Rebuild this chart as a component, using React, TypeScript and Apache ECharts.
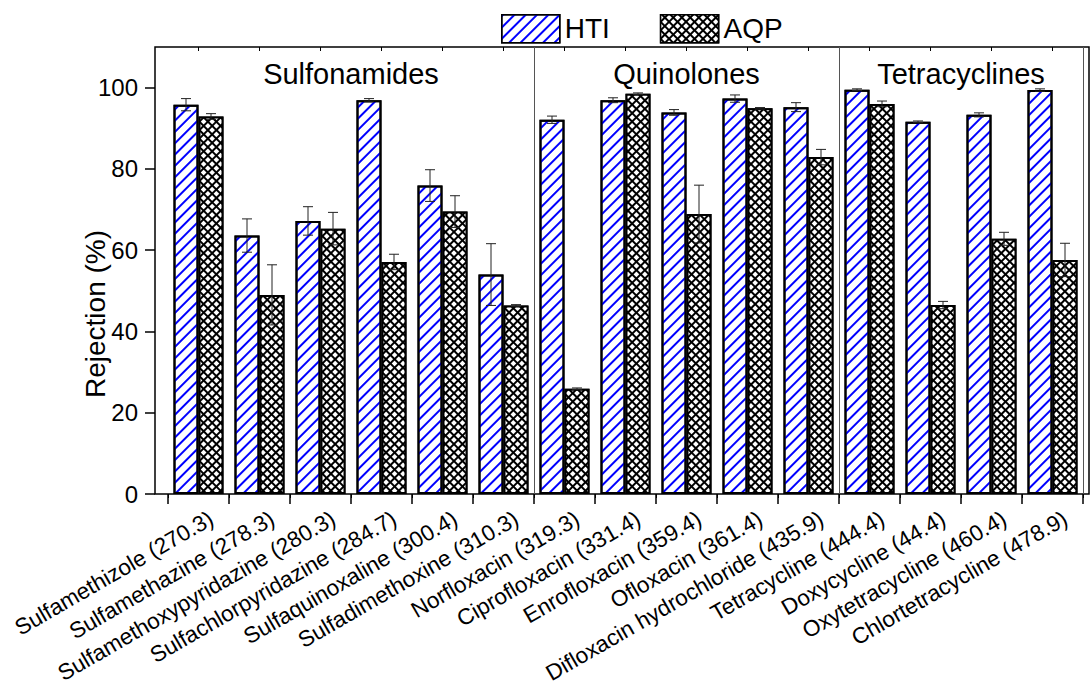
import React, { useEffect, useRef } from 'react';
import * as echarts from 'echarts';

const categories = [
  'Sulfamethizole (270.3)',
  'Sulfamethazine (278.3)',
  'Sulfamethoxypyridazine (280.3)',
  'Sulfachlorpyridazine (284.7)',
  'Sulfaquinoxaline (300.4)',
  'Sulfadimethoxine (310.3)',
  'Norfloxacin (319.3)',
  'Ciprofloxacin (331.4)',
  'Enrofloxacin (359.4)',
  'Ofloxacin (361.4)',
  'Difloxacin hydrochloride (435.9)',
  'Tetracycline (444.4)',
  'Doxycycline (44.4)',
  'Oxytetracycline (460.4)',
  'Chlortetracycline (478.9)',
];
const htiValues = [95.8, 63.6, 67.2, 96.9, 75.9, 54.0, 92.1, 96.9, 93.9, 97.3, 95.2, 99.5, 91.6, 93.3, 99.4];
const htiErrors = [1.5, 4.1, 3.5, 0.4, 3.9, 7.6, 0.9, 0.6, 0.7, 0.9, 1.1, 0.2, 0.2, 0.5, 0.3];
const aqpValues = [92.9, 49.0, 65.3, 57.1, 69.5, 46.4, 25.9, 98.5, 68.9, 94.9, 82.9, 96.0, 46.5, 62.8, 57.6];
const aqpErrors = [0.7, 7.4, 4.0, 1.9, 3.9, 0.2, 0.2, 0.2, 7.1, 0.2, 1.9, 0.7, 0.9, 1.6, 4.1];
const groupNames = ['Sulfonamides', 'Quinolones', 'Tetracyclines'];
const groupFirst = [0, 6, 11];
const groupLast = [5, 10, 14];
const yMajorTicks = [0, 20, 40, 60, 80, 100];
const yMinorTicks = [10, 30, 50, 70, 90, 110];

const FONT = "'Liberation Sans', Arial, Helvetica, sans-serif";
const BAR_W = 25;

export default function App() {
  const ref = useRef<HTMLDivElement>(null);

  useEffect(() => {
    const chart = echarts.init(ref.current as HTMLDivElement, null, { renderer: 'svg' });

    const errorSeries = (name: string, values: number[], errors: number[], shift: number) => ({
      type: 'custom',
      name: name + ' error',
      xAxisIndex: 0,
      yAxisIndex: 0,
      z: 5,
      silent: true,
      clip: false,
      data: values.map((v, i) => [i, v, errors[i]]),
      renderItem: (params: any, api: any) => {
        const i = api.value(0);
        const v = api.value(1);
        const e = api.value(2);
        const hi = api.coord([i, v + e]);
        const lo = api.coord([i, v - e]);
        const x = hi[0] + shift;
        const cap = 5;
        const style = { stroke: '#222', lineWidth: 1 };
        return {
          type: 'group',
          children: [
            { type: 'line', shape: { x1: x, y1: hi[1], x2: x, y2: lo[1] }, style },
            { type: 'line', shape: { x1: x - cap, y1: hi[1], x2: x + cap, y2: hi[1] }, style },
            { type: 'line', shape: { x1: x - cap, y1: lo[1], x2: x + cap, y2: lo[1] }, style },
          ],
        };
      },
    });

    const option: any = {
      animation: false,
      backgroundColor: '#fff',
      textStyle: { fontFamily: FONT },
      legend: {
        data: ['HTI', 'AQP'],
        left: 496,
        top: 9,
        itemWidth: 58,
        itemHeight: 28,
        itemGap: 50,
        icon: 'rect',
        textStyle: { fontSize: 28, fontFamily: FONT, color: '#000' },
        itemStyle: { borderColor: '#000', borderWidth: 1.5 },
      },
      grid: [
        { left: 168, right: 9, top: 47, bottom: 190 },
        { left: 155, right: 3, top: 47, bottom: 190, show: true, borderColor: '#000', borderWidth: 1.5, backgroundColor: 'transparent' },
      ],
      xAxis: [
        {
          gridIndex: 0,
          type: 'category',
          data: categories,
          position: 'bottom',
          axisLine: { show: false },
          axisTick: { show: true, interval: 0, length: 10, lineStyle: { color: '#000', width: 1.5 } },
          axisLabel: { show: false, interval: 0 },
          splitLine: {
            show: true,
            interval: (i: number) => i === 6 || i === 11,
            lineStyle: { color: '#555', width: 1 },
          },
        },
        {
          gridIndex: 0,
          type: 'category',
          data: categories,
          position: 'top',
          axisLine: { show: false },
          axisTick: { show: true, inside: true, interval: 0, length: 4, lineStyle: { color: '#000', width: 1 } },
          axisLabel: { show: false, interval: 0 },
        },
        {
          gridIndex: 0,
          type: 'category',
          data: categories,
          position: 'top',
          axisLine: { show: false },
          axisTick: { show: true, inside: true, alignWithLabel: true, interval: 0, length: 4, lineStyle: { color: '#000', width: 1 } },
          axisLabel: { show: false, interval: 0 },
        },
        { gridIndex: 1, type: 'value', show: false, min: 0, max: 1 },
      ],
      yAxis: [
        {
          gridIndex: 0,
          type: 'value',
          min: 0,
          max: 110,
          offset: 13,
          axisLine: { show: false },
          axisTick: { show: true, customValues: yMajorTicks, length: 10, lineStyle: { color: '#000', width: 1.5 } },
          axisLabel: { customValues: yMajorTicks, fontSize: 24, color: '#000', fontFamily: FONT, margin: 17 },
          splitLine: { show: false },
        },
        {
          gridIndex: 0,
          type: 'value',
          min: 0,
          max: 110,
          offset: 13,
          axisLine: { show: false },
          axisTick: { show: true, customValues: yMinorTicks, length: 5, lineStyle: { color: '#000', width: 1.5 } },
          axisLabel: { show: false },
          splitLine: { show: false },
        },
        { gridIndex: 1, type: 'value', show: false, min: 0, max: 1 },
      ],
      graphic: [
        {
          type: 'text',
          x: 95,
          y: 314,
          rotation: Math.PI / 2,
          style: { text: 'Rejection (%)', fontSize: 28, fontFamily: FONT, fill: '#000', align: 'center', verticalAlign: 'middle' },
        },
      ],
      series: [
        {
          type: 'bar',
          name: 'HTI',
          xAxisIndex: 0,
          yAxisIndex: 0,
          data: htiValues,
          barWidth: BAR_W,
          barGap: '0%',
          itemStyle: {
            color: '#fff',
            borderColor: '#000',
            borderWidth: 2,
            decal: { symbol: 'rect', symbolSize: 1, color: '#0000ff', dashArrayX: [1, 0], dashArrayY: [2, 6], rotation: -Math.PI / 4 },
          },
        },
        {
          type: 'bar',
          name: 'AQP',
          xAxisIndex: 0,
          yAxisIndex: 0,
          data: aqpValues,
          barWidth: BAR_W,
          barGap: '0%',
          itemStyle: {
            color: '#000',
            borderColor: '#000',
            borderWidth: 2,
            decal: { symbol: 'rect', symbolSize: 1, color: '#fff', dashArrayX: [4, 2], dashArrayY: [4, 2], rotation: Math.PI / 4 },
          },
        },
        errorSeries('HTI', htiValues, htiErrors, -BAR_W / 2),
        errorSeries('AQP', aqpValues, aqpErrors, BAR_W / 2),
        {
          type: 'custom',
          name: 'labels',
          xAxisIndex: 0,
          yAxisIndex: 0,
          silent: true,
          clip: false,
          z: 10,
          data: categories.map((c, i) => [i, 0]),
          renderItem: (params: any, api: any) => {
            const p = api.coord([api.value(0), 0]);
            return {
              type: 'text',
              x: p[0] + 13,
              y: p[1] + 23,
              rotation: Math.PI / 6,
              style: {
                text: categories[params.dataIndex],
                fontSize: 22.5,
                fontFamily: FONT,
                fill: '#000',
                align: 'right',
                verticalAlign: 'middle',
              },
            };
          },
        },
        {
          type: 'custom',
          name: 'groups',
          xAxisIndex: 0,
          yAxisIndex: 0,
          silent: true,
          clip: false,
          z: 10,
          data: groupNames.map((n, k) => [groupFirst[k], 110]),
          renderItem: (params: any, api: any) => {
            const k = params.dataIndex;
            const a = api.coord([groupFirst[k], 110]);
            const b = api.coord([groupLast[k], 110]);
            return {
              type: 'text',
              x: (a[0] + b[0]) / 2,
              y: a[1] + 27,
              style: {
                text: groupNames[k],
                fontSize: 29,
                fontFamily: FONT,
                fill: '#000',
                align: 'center',
                verticalAlign: 'middle',
              },
            };
          },
        },
      ],
    };

    chart.setOption(option);
    return () => chart.dispose();
  }, []);

  return (
    <div
      ref={ref}
      style={{ position: 'fixed', left: 0, top: 0, width: 1092, height: 684, background: '#fff' }}
    />
  );
}
